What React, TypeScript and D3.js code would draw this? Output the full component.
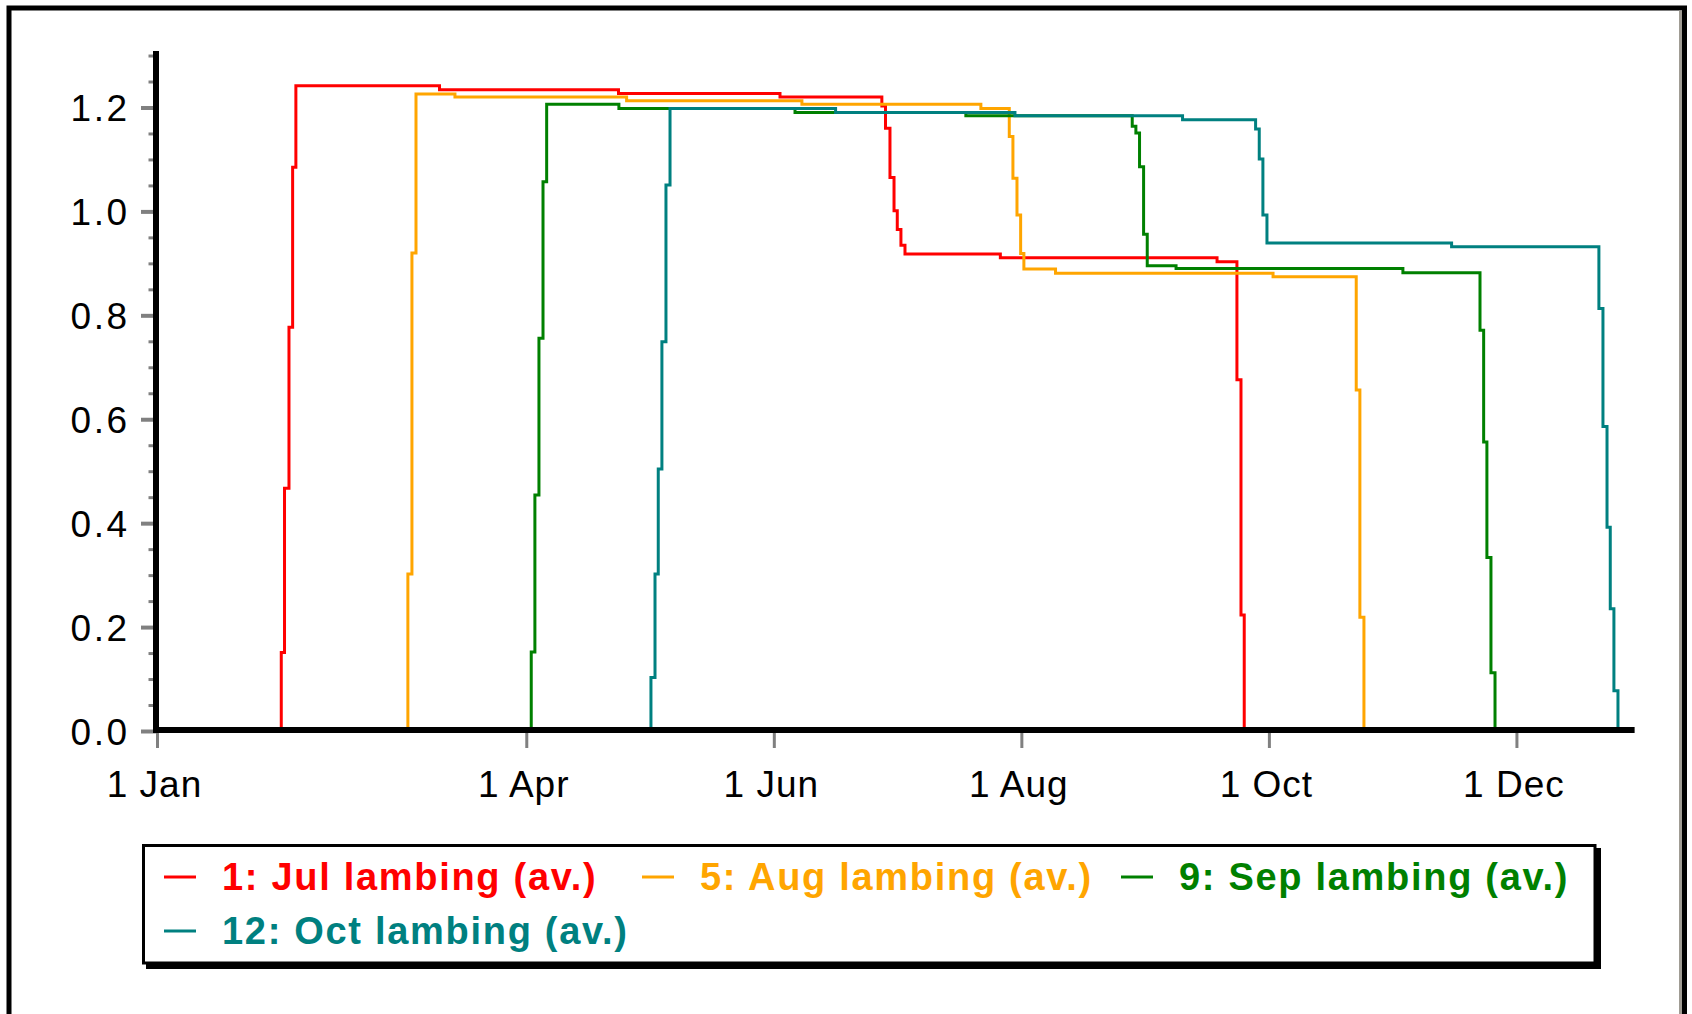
import React from "react";
import * as d3 from "d3";

const WIDTH = 1692;
const HEIGHT = 1014;

// ---- data (day of year, value) ----
const seriesNames = [
  "1: Jul lambing (av.)",
  "5: Aug lambing (av.)",
  "9: Sep lambing (av.)",
  "12: Oct lambing (av.)",
];
const seriesColors = ["#ff0000", "#ffa500", "#008000", "#008080"];

const julDays = [0, 30.5, 31.3, 32.4, 33.3, 34.1, 69.5, 113.6, 153.4, 178.5, 179.4, 180.5, 181.5, 182.3, 183.2, 184.2, 207.7, 261.1, 266.0, 267.0, 267.8];
const julValues = [0, 0.152, 0.468, 0.778, 1.086, 1.243, 1.235, 1.228, 1.221, 1.204, 1.161, 1.066, 1.002, 0.966, 0.936, 0.919, 0.912, 0.904, 0.677, 0.224, 0];

const augDays = [0, 61.7, 62.7, 63.7, 73.3, 115.6, 158.8, 202.9, 209.9, 210.8, 211.8, 212.7, 213.5, 221.3, 274.9, 295.4, 296.3, 297.3];
const augValues = [0, 0.303, 0.921, 1.227, 1.221, 1.214, 1.207, 1.199, 1.145, 1.065, 0.994, 0.92, 0.89, 0.882, 0.875, 0.657, 0.22, 0];

const sepDays = [0, 92.1, 93.0, 94.0, 95.0, 95.9, 113.7, 157.1, 199.2, 240.2, 241.1, 242.0, 243.0, 243.9, 251.0, 306.9, 325.9, 326.8, 327.6, 328.6, 329.6];
const sepValues = [0, 0.153, 0.455, 0.757, 1.058, 1.207, 1.199, 1.1915, 1.185, 1.165, 1.152, 1.087, 0.957, 0.8965, 0.891, 0.883, 0.772, 0.557, 0.335, 0.113, 0];

const octDays = [0, 121.6, 122.6, 123.4, 124.3, 125.3, 126.3, 167.1, 211.3, 252.6, 270.6, 271.5, 272.4, 273.4, 318.9, 355.2, 356.2, 357.2, 358.0, 358.9, 359.9];
const octValues = [0, 0.104, 0.303, 0.505, 0.75, 1.052, 1.199, 1.1915, 1.185, 1.1775, 1.1595, 1.102, 0.994, 0.94, 0.933, 0.814, 0.587, 0.393, 0.236, 0.0785, 0];

const seriesDays = [julDays, augDays, sepDays, octDays];
const seriesValues = [julValues, augValues, sepValues, octValues];

const xTickDays = [0, 91, 152, 213, 274, 335];
const xTickLabels = ["1 Jan", "1 Apr", "1 Jun", "1 Aug", "1 Oct", "1 Dec"];
const yMajorTicks = [0, 0.2, 0.4, 0.6, 0.8, 1.0, 1.2];
const yMinorTicks = [0.05, 0.1, 0.15, 0.25, 0.3, 0.35, 0.45, 0.5, 0.55, 0.65, 0.7, 0.75, 0.85, 0.9, 0.95, 1.05, 1.1, 1.15, 1.25, 1.3];

const FONT = "'Liberation Sans', Arial, Helvetica, sans-serif";

export default function App() {
  const x = d3.scaleLinear().domain([0, 364]).range([157.5, 157.5 + 364 * 4.058]);
  const y = d3.scaleLinear().domain([0, 1.3]).range([731.5, 731.5 - 1.3 * 519.6]);

  const line = d3
    .line<[number, number]>()
    .x((d) => x(d[0]))
    .y((d) => y(d[1]))
    .curve(d3.curveStepAfter);

  const axisLeft = 156;
  const axisBottom = 730;
  const xEnd = x(364);

  const legendCols = [164, 642, 1121];
  const legendRows = [877, 931];

  return (
    <svg
      width={WIDTH}
      height={HEIGHT}
      style={{ position: "absolute", left: 0, top: 0, background: "#fff" }}
      fontFamily={FONT}
    >
      <rect x={0} y={0} width={WIDTH} height={HEIGHT} fill="#fff" />
      {/* outer frame */}
      <rect x={9} y={8} width={1675.5} height={1030} fill="none" stroke="#000" strokeWidth={5} />
      <line x1={1680.5} x2={1680.5} y1={10.5} y2={HEIGHT} stroke="#a09c94" strokeWidth={3} />

      {/* series */}
      {seriesDays.map((days, i) => {
        const pts: [number, number][] = days.map((d, j) => [d, seriesValues[i][j]]);
        return (
          <path
            key={i}
            d={line(pts) || ""}
            fill="none"
            stroke={seriesColors[i]}
            strokeWidth={3}
            strokeLinejoin="miter"
          />
        );
      })}

      {/* y ticks */}
      {yMinorTicks.map((t) => (
        <line key={"m" + t} x1={148.5} x2={axisLeft} y1={y(t)} y2={y(t)} stroke="#808080" strokeWidth={3} />
      ))}
      {yMajorTicks.map((t) => (
        <line key={"M" + t} x1={141} x2={axisLeft} y1={y(t)} y2={y(t)} stroke="#808080" strokeWidth={4} />
      ))}
      {yMajorTicks.map((t) => (
        <text
          key={"l" + t}
          x={129.5}
          y={y(t) + 13.5}
          textAnchor="end"
          fontSize={37}
          letterSpacing={2.5}
          fill="#000"
        >
          {t.toFixed(1)}
        </text>
      ))}

      {/* x ticks */}
      {xTickDays.map((d, i) => (
        <g key={"x" + i}>
          <line x1={x(d)} x2={x(d)} y1={axisBottom} y2={748} stroke="#808080" strokeWidth={3} />
          <text x={x(d) - 3} y={797} textAnchor="middle" fontSize={37} letterSpacing={1} fill="#000">
            {xTickLabels[i]}
          </text>
        </g>
      ))}

      {/* axes */}
      <rect x={153} y={51} width={6} height={682} fill="#000" />
      <rect x={153} y={727} width={xEnd - 153} height={6} fill="#000" />

      {/* legend */}
      <rect x={146} y={963} width={1455} height={6} fill="#000" />
      <rect x={1595} y={848} width={6} height={121} fill="#000" />
      <rect x={143.5} y={845.5} width={1451.5} height={117.5} fill="#fff" stroke="#000" strokeWidth={3} />
      {seriesNames.map((name, i) => {
        const col = legendCols[i % 3];
        const row = legendRows[Math.floor(i / 3)];
        return (
          <g key={"lg" + i}>
            <line x1={col} x2={col + 32} y1={row} y2={row} stroke={seriesColors[i]} strokeWidth={3} />
            <text
              x={col + 58}
              y={row + 13}
              fontSize={38}
              fontWeight="bold"
              letterSpacing={1.7}
              fill={seriesColors[i]}
            >
              {name}
            </text>
          </g>
        );
      })}
    </svg>
  );
}
